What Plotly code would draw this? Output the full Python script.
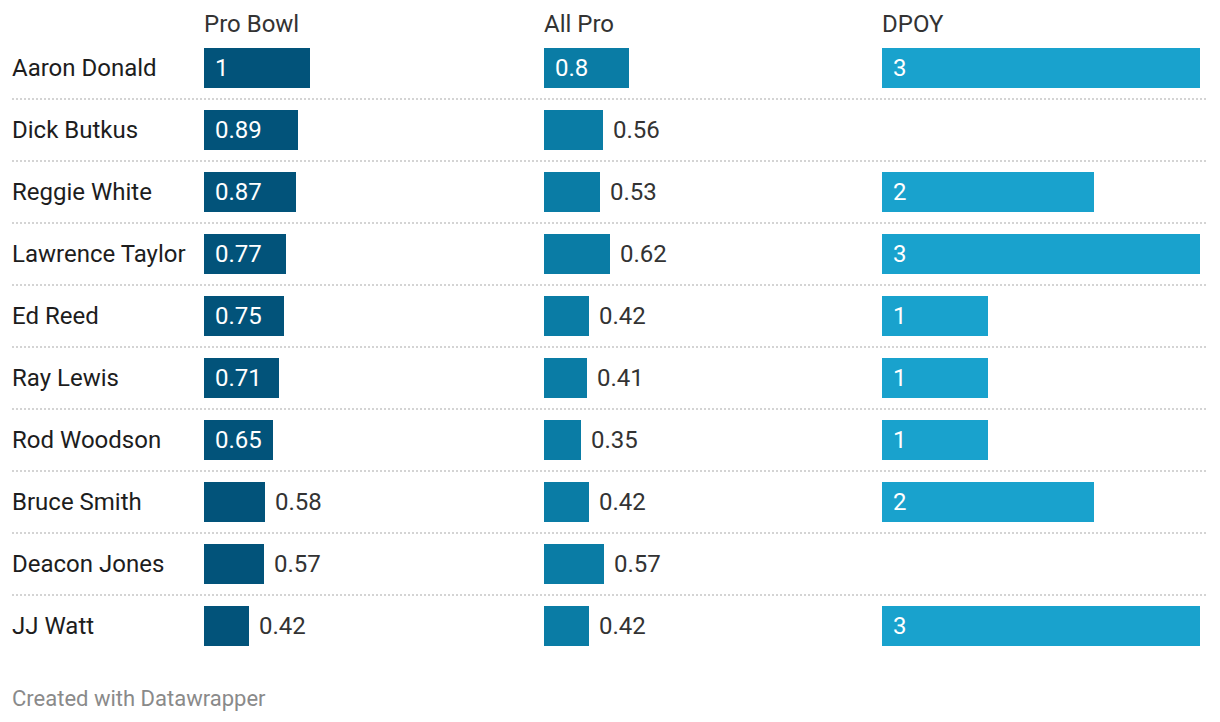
import plotly.graph_objects as go

# ---- data ----
players = ["Aaron Donald", "Dick Butkus", "Reggie White", "Lawrence Taylor", "Ed Reed",
           "Ray Lewis", "Rod Woodson", "Bruce Smith", "Deacon Jones", "JJ Watt"]
pro_bowl = [1, 0.89, 0.87, 0.77, 0.75, 0.71, 0.65, 0.58, 0.57, 0.42]
all_pro = [0.8, 0.56, 0.53, 0.62, 0.42, 0.41, 0.35, 0.42, 0.57, 0.42]
dpoy = [3, None, 2, 3, 1, 1, 1, 2, None, 3]
column_titles = ["Pro Bowl", "All Pro", "DPOY"]
footer_text = "Created with Datawrapper"

# ---- style ----
W, H = 1220, 722
FONT = "Roboto"
colors = ["#02537A", "#0A7CA5", "#19A2CD"]
col_start_px = [204, 544, 882]
col_width_px = 318
x_max = 3
band_top_px, band_bottom_px = 37, 657
INSIDE_MIN = 0.64  # label goes inside the bar when value >= this

fig = go.Figure()
series = [pro_bowl, all_pro, dpoy]
axis_names = ["x", "x2", "x3"]
annotations = []

for i, (vals, col, ax) in enumerate(zip(series, colors, axis_names)):
    fig.add_trace(go.Bar(
        y=players, x=vals, orientation="h", marker=dict(color=col, line=dict(width=0)),
        width=40 / 62, xaxis=ax, yaxis="y", hoverinfo="skip", showlegend=False,
    ))
    for p, v in zip(players, vals):
        if v is None:
            continue
        lab = f"{v:g}"
        if v >= INSIDE_MIN:
            annotations.append(dict(x=0, y=p, xref=ax, yref="y", text=lab, showarrow=False,
                                    xanchor="left", xshift=9,
                                    font=dict(family=FONT, size=24, color="#ffffff")))
        else:
            annotations.append(dict(x=v, y=p, xref=ax, yref="y", text=lab, showarrow=False,
                                    xanchor="left", xshift=8,
                                    font=dict(family=FONT, size=24, color="#333333")))
    annotations.append(dict(x=col_start_px[i] / W, y=1 - 24 / H, xref="paper", yref="paper",
                            text=column_titles[i], showarrow=False, xanchor="left",
                            yanchor="middle", xshift=-2,
                            font=dict(family=FONT, size=24, color="#333333")))

for p in players:
    annotations.append(dict(x=12 / W, y=p, xref="paper", yref="y", text=p, showarrow=False,
                            xanchor="left", xshift=-2,
                            font=dict(family=FONT, size=24, color="#1d1d1d")))

annotations.append(dict(x=12 / W, y=1 - 698 / H, xref="paper", yref="paper", text=footer_text,
                        showarrow=False, xanchor="left", yanchor="middle", xshift=-2,
                        font=dict(family=FONT, size=22, color="#8a8a8a")))

shapes = []
for k in range(len(players) - 1):
    shapes.append(dict(type="line", xref="paper", yref="y", x0=12 / W, x1=1208 / W,
                       y0=k + 0.5, y1=k + 0.5,
                       line=dict(color="#d4d4d4", width=2, dash="2px,2px")))

layout_axes = {}
for i, name in enumerate(["xaxis", "xaxis2", "xaxis3"]):
    layout_axes[name] = dict(
        domain=[col_start_px[i] / W, (col_start_px[i] + col_width_px) / W],
        range=[0, x_max], visible=False, fixedrange=True,
        anchor="y",
    )

fig.update_layout(
    width=W, height=H,
    margin=dict(l=0, r=0, t=0, b=0),
    paper_bgcolor="white", plot_bgcolor="white",
    yaxis=dict(domain=[1 - band_bottom_px / H, 1 - band_top_px / H],
               range=[len(players) - 0.5, -0.5], visible=False,
               categoryorder="array", categoryarray=players, fixedrange=True),
    annotations=annotations, shapes=shapes,
    barmode="overlay", bargap=0,
    **layout_axes,
)

fig.write_html("out.html", config={"displayModeBar": False},
               post_script="document.body.style.margin='0';document.body.style.overflow='hidden';")
